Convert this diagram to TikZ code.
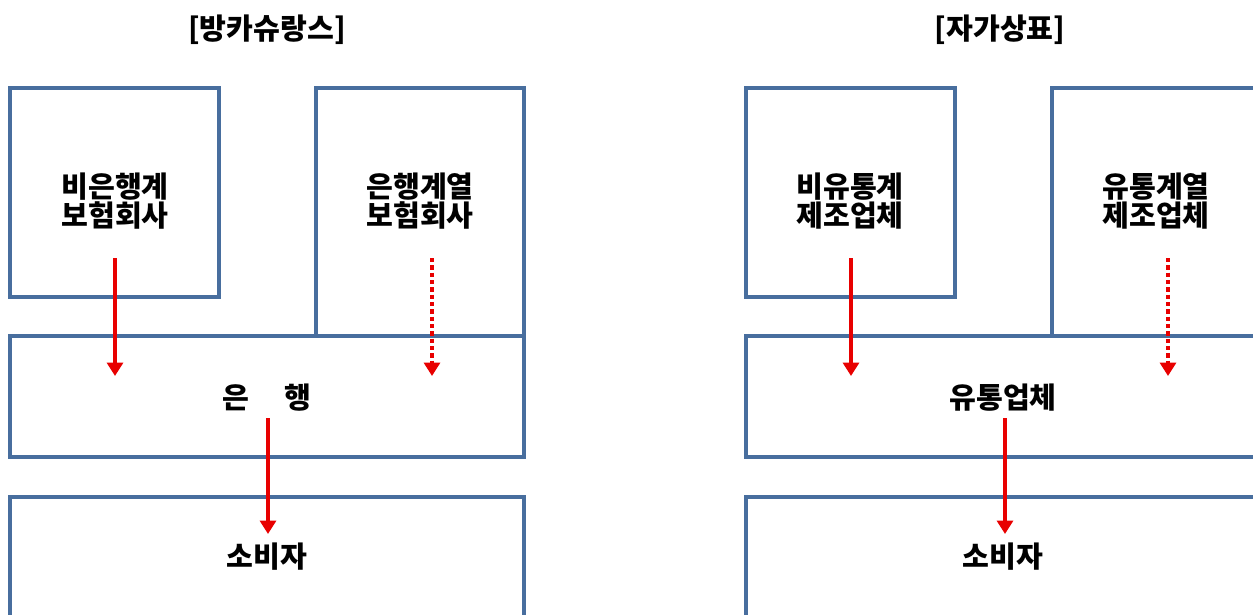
\documentclass[tikz,border=0pt]{standalone}
\usepackage{fontspec}
\setmainfont{Noto Sans CJK KR}
\usepackage{xcolor}
\usepackage{tikz}
\usetikzlibrary{arrows.meta,fit}
\definecolor{framblue}{RGB}{72, 110, 158}
\definecolor{flowred}{RGB}{232, 0, 0}

\tikzset{
  box/.style={draw=framblue, line width=2.4pt, inner sep=0pt},
  lbl/.style={font=\fontsize{17.5}{17}\selectfont\bfseries, align=center},
  flow/.style={-{Triangle[width=9.5pt,length=8pt]}, line width=2.2pt, flowred},
  flowdot/.style={flow, dash pattern=on 2.5pt off 1.9pt}
}

\begin{document}
\begin{tikzpicture}[x=0.6pt, y=-0.6pt]
  \path[use as bounding box, clip] (0,0) rectangle (1253,614);

  % bancassurance
  \node[lbl] (ttlA) at (267,30) {[방카슈랑스]};
  \node[box, fit={(10,88) (219,297)}] (nonbank) {};
  \node[box, fit={(316,88) (524,336)}] (bankins) {};
  \node[box, fit={(10,336) (524,457)}] (bank) {};
  \node[box, fit={(10,497) (524,650)}] (consA) {};

  \node[lbl] (nonbankT) at (115,201) {비은행계\\보험회사};
  \node[lbl] (bankinsT) at (420,201) {은행계열\\보험회사};
  \node[lbl] (bankT) at (267,398) {은\hspace{1.2em}행};
  \node[lbl] (consAT) at (267,557) {소비자};

  \coordinate (a1s) at (115,258); \coordinate (a1e) at (115,376);
  \coordinate (a2s) at (432,258); \coordinate (a2e) at (432,376);
  \coordinate (a3s) at (268,418); \coordinate (a3e) at (268,534);
  \draw[flow] (a1s) -- (a1e);
  \draw[flowdot] (a2s) -- (a2e);
  \draw[flow] (a3s) -- (a3e);

  % private label
  \node[lbl] (ttlB) at (1000,30) {[자가상표]};
  \node[box, fit={(746,88) (955,297)}] (nondist) {};
  \node[box, fit={(1052,88) (1262,336)}] (distmfr) {};
  \node[box, fit={(746,336) (1262,457)}] (dist) {};
  \node[box, fit={(746,497) (1262,650)}] (consB) {};

  \node[lbl] (nondistT) at (850,201) {비유통계\\제조업체};
  \node[lbl] (distmfrT) at (1156,201) {유통계열\\제조업체};
  \node[lbl] (distT) at (1003,398) {유통업체};
  \node[lbl] (consBT) at (1003,557) {소비자};

  \coordinate (b1s) at (851,258); \coordinate (b1e) at (851,376);
  \coordinate (b2s) at (1168,258); \coordinate (b2e) at (1168,376);
  \coordinate (b3s) at (1005,418); \coordinate (b3e) at (1005,534);
  \draw[flow] (b1s) -- (b1e);
  \draw[flowdot] (b2s) -- (b2e);
  \draw[flow] (b3s) -- (b3e);
\end{tikzpicture}
\end{document}
